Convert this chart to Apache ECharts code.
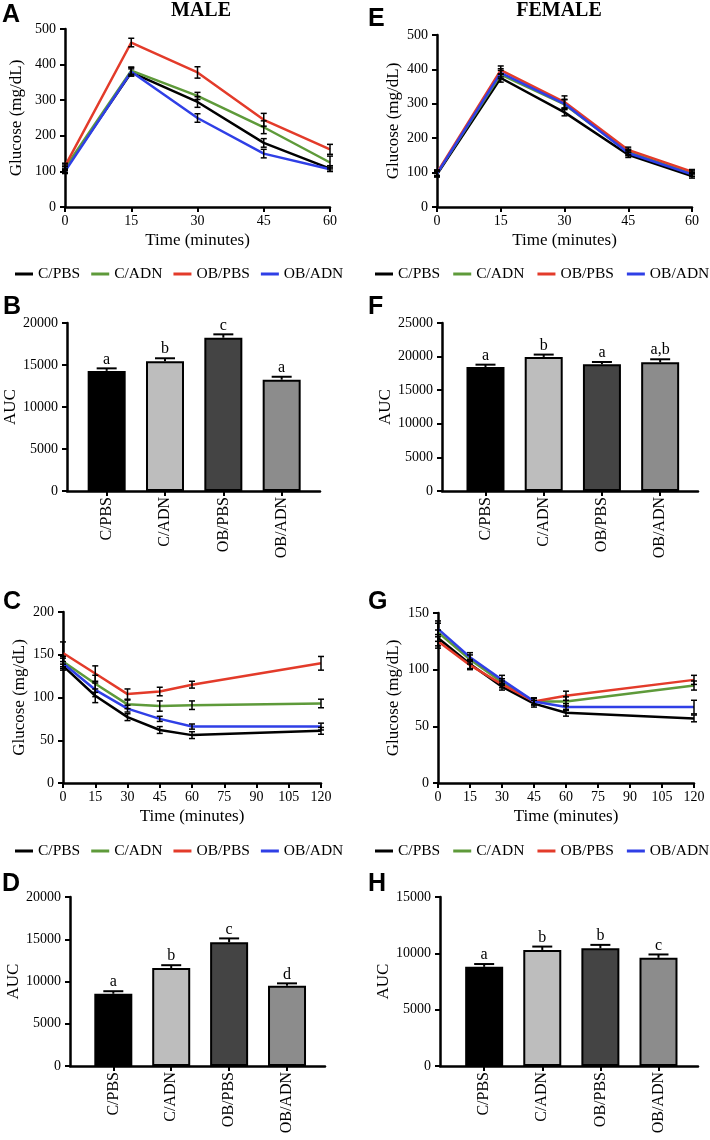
<!DOCTYPE html>
<html>
<head>
<meta charset="utf-8">
<script src="https://cdn.jsdelivr.net/npm/echarts@6/dist/echarts.min.js"></script>
<style>
  html, body { margin: 0; padding: 0; background: #fff; }
  #chart { width: 710px; height: 1140px; }
</style>
</head>
<body>
<div id="chart"></div>
<script>
// groups and colours
const groups = ['C/PBS', 'C/ADN', 'OB/PBS', 'OB/ADN'];
const lineColors = ['#000000', '#5e9a3a', '#e33b2a', '#2f3fe6'];
const barColors = ['#000000', '#bdbdbd', '#444444', '#8c8c8c'];

const gttTime = [0, 15, 30, 45, 60];
const ittTime = [0, 15, 30, 45, 60, 120];

// A - male GTT (rows follow groups)
const maleGttMean = [
  [105, 378, 295, 180, 108],
  [110, 383, 312, 224, 125],
  [115, 462, 378, 245, 162],
  [100, 380, 250, 150, 106]
];
const maleGttErr = [
  [8, 10, 15, 12, 8],
  [8, 10, 10, 18, 18],
  [8, 12, 16, 18, 14],
  [6, 12, 12, 12, 6]
];
// E - female GTT
const femaleGttMean = [
  [95, 375, 275, 152, 90],
  [98, 385, 298, 160, 97],
  [100, 398, 305, 166, 103],
  [97, 390, 300, 157, 95]
];
const femaleGttErr = [
  [8, 12, 10, 8, 6],
  [8, 12, 15, 8, 8],
  [8, 12, 18, 8, 6],
  [8, 12, 12, 8, 6]
];
// B / F - GTT AUC
const maleGttAuc = [14300, 15450, 18250, 13250];
const maleGttAucErr = [300, 350, 400, 350];
const maleGttLetters = ['a', 'b', 'c', 'a'];
const femaleGttAuc = [18450, 19950, 18850, 19150];
const femaleGttAucErr = [350, 350, 350, 450];
const femaleGttLetters = ['a', 'b', 'a', 'a,b'];

// C - male ITT
const maleIttMean = [
  [137, 102, 77, 62, 56, 61],
  [142, 116, 92, 90, 91, 93],
  [152, 128, 104, 107, 115, 140],
  [140, 109, 87, 75, 66, 66]
];
const maleIttErr = [
  [5, 8, 4, 4, 4, 4],
  [6, 10, 5, 6, 5, 5],
  [13, 9, 6, 5, 4, 8],
  [6, 8, 4, 3, 3, 4]
];
// G - female ITT
const femaleIttMean = [
  [128, 105, 85, 70, 62, 57],
  [133, 109, 89, 72, 72, 86],
  [125, 104, 87, 72, 77, 91],
  [136, 111, 91, 72, 67, 67]
];
const femaleIttErr = [
  [7, 4, 3, 3, 3, 3],
  [8, 4, 3, 3, 4, 4],
  [6, 4, 3, 3, 4, 4],
  [7, 4, 4, 3, 3, 6]
];
// D / H - ITT AUC
const maleIttAuc = [8550, 11600, 14650, 9500];
const maleIttAucErr = [300, 330, 450, 280];
const maleIttLetters = ['a', 'b', 'c', 'd'];
const femaleIttAuc = [8800, 10300, 10450, 9600];
const femaleIttAucErr = [250, 300, 300, 300];
const femaleIttLetters = ['a', 'b', 'b', 'c'];

const serif = 'Liberation Serif';
const axisLine = { show: true, onZero: false, lineStyle: { color: '#000', width: 2.5 } };
const axisTick = { show: true, inside: false, length: 5, lineStyle: { color: '#000', width: 2 } };

let grids = [], xAxes = [], yAxes = [], series = [];

function yAxisOf(gi, max, interval, name, gap) {
  return {
    gridIndex: gi, type: 'value', min: 0, max: max, interval: interval,
    axisLine: axisLine, axisTick: axisTick, splitLine: { show: false },
    axisLabel: { color: '#000', fontFamily: serif, fontSize: 14, margin: 9, formatter: v => String(v) },
    name: name, nameLocation: 'middle', nameRotate: 90, nameGap: gap,
    nameTextStyle: { color: '#000', fontFamily: serif, fontSize: 17 }
  };
}

function linePanel(grid, time, xMax, yMax, yInt, yGap, mean, err) {
  const gi = grids.length;
  grids.push(grid);
  xAxes.push({
    gridIndex: gi, type: 'value', min: 0, max: xMax, interval: 15,
    axisLine: axisLine, axisTick: axisTick, splitLine: { show: false },
    axisLabel: { color: '#000', fontFamily: serif, fontSize: 14, margin: 7 },
    name: 'Time (minutes)', nameLocation: 'middle', nameGap: 25,
    nameTextStyle: { color: '#000', fontFamily: serif, fontSize: 17 }
  });
  yAxes.push(yAxisOf(gi, yMax, yInt, 'Glucose (mg/dL)', yGap));
  const errData = [];
  groups.forEach((g, k) => {
    series.push({
      name: g, type: 'line', xAxisIndex: gi, yAxisIndex: gi,
      data: time.map((t, i) => [t, mean[k][i]]),
      showSymbol: false, symbol: 'circle', symbolSize: 3,
      lineStyle: { color: lineColors[k], width: 2.5 }, itemStyle: { color: lineColors[k] }
    });
    time.forEach((t, i) => errData.push([t, mean[k][i], err[k][i]]));
  });
  series.push({
    name: 'err' + gi, type: 'custom', xAxisIndex: gi, yAxisIndex: gi, z: 5,
    data: errData,
    renderItem: function (params, api) {
      const x = api.value(0), y = api.value(1), e = api.value(2);
      const top = api.coord([x, y + e]), bot = api.coord([x, y - e]);
      const st = { stroke: '#000', lineWidth: 1.5 };
      return { type: 'group', children: [
        { type: 'line', shape: { x1: top[0], y1: top[1], x2: bot[0], y2: bot[1] }, style: st },
        { type: 'line', shape: { x1: top[0] - 3, y1: top[1], x2: top[0] + 3, y2: top[1] }, style: st },
        { type: 'line', shape: { x1: bot[0] - 3, y1: bot[1], x2: bot[0] + 3, y2: bot[1] }, style: st }
      ] };
    }
  });
}

function barPanel(grid, xMin, xMax, yMax, yInt, yGap, vals, errs, letters) {
  const gi = grids.length;
  grids.push(grid);
  xAxes.push({
    gridIndex: gi, type: 'value', min: xMin, max: xMax,
    axisLine: axisLine, splitLine: { show: false },
    axisTick: Object.assign({ customValues: [0, 1, 2, 3] }, axisTick),
    axisLabel: { customValues: [0, 1, 2, 3], formatter: v => groups[v], rotate: 90,
      color: '#000', fontFamily: serif, fontSize: 16, margin: 6 }
  });
  yAxes.push(yAxisOf(gi, yMax, yInt, 'AUC', yGap));
  series.push({
    name: 'auc' + gi, type: 'bar', xAxisIndex: gi, yAxisIndex: gi, barWidth: 38,
    data: vals.map((v, i) => ({ value: [i, v], itemStyle: { color: barColors[i], borderColor: '#000', borderWidth: 2 } }))
  });
  series.push({
    name: 'aucErr' + gi, type: 'custom', xAxisIndex: gi, yAxisIndex: gi, z: 5,
    encode: { x: 0, y: 1 },
    data: vals.map((v, i) => [i, v, errs[i]]),
    renderItem: function (params, api) {
      const x = api.value(0), y = api.value(1), e = api.value(2);
      const top = api.coord([x, y + e]), base = api.coord([x, y]);
      const st = { stroke: '#000', lineWidth: 2 };
      return { type: 'group', children: [
        { type: 'line', shape: { x1: top[0], y1: top[1], x2: base[0], y2: base[1] }, style: st },
        { type: 'line', shape: { x1: top[0] - 10, y1: top[1], x2: top[0] + 10, y2: top[1] }, style: st },
        { type: 'text', style: { text: letters[params.dataIndex], x: top[0], y: top[1] - 1,
          align: 'center', verticalAlign: 'bottom', fill: '#000', font: '16px "Liberation Serif"' } }
      ] };
    }
  });
}

linePanel({ left: 65, top: 29, width: 265, height: 178 }, gttTime, 60, 500, 100, 40, maleGttMean, maleGttErr);
linePanel({ left: 437, top: 35, width: 255, height: 172 }, gttTime, 60, 500, 100, 35, femaleGttMean, femaleGttErr);
barPanel({ left: 67, top: 323, width: 253, height: 168 }, -0.68, 3.657, 20000, 5000, 47, maleGttAuc, maleGttAucErr, maleGttLetters);
barPanel({ left: 442, top: 323, width: 256, height: 168 }, -0.747, 3.65, 25000, 5000, 45, femaleGttAuc, femaleGttAucErr, femaleGttLetters);
linePanel({ left: 63, top: 612, width: 258, height: 171 }, ittTime, 120, 200, 50, 35, maleIttMean, maleIttErr);
linePanel({ left: 438, top: 613, width: 256, height: 170 }, ittTime, 120, 150, 50, 36, femaleIttMean, femaleIttErr);
barPanel({ left: 70, top: 897, width: 255, height: 169 }, -0.748, 3.656, 20000, 5000, 48, maleIttAuc, maleIttAucErr, maleIttLetters);
barPanel({ left: 440, top: 897, width: 258, height: 169 }, -0.76, 3.68, 15000, 5000, 45, femaleIttAuc, femaleIttAucErr, femaleIttLetters);

function legendAt(left, top, gap) {
  return {
    left: left, top: top, width: 345, data: groups, icon: 'rect', itemWidth: 18, itemHeight: 3, itemGap: gap,
    selectedMode: false, textStyle: { color: '#000', fontFamily: serif, fontSize: 15.5 }
  };
}

function panelLetter(txt, x, y) {
  return { type: 'text', left: x, top: y, style: { text: txt, fill: '#000', font: 'bold 25px "Liberation Sans"' } };
}
function heading(txt, cx) {
  return { type: 'text', x: cx, y: 1, style: { text: txt, fill: '#000', align: 'center', font: 'bold 20px "Liberation Serif"' } };
}

const chart = echarts.init(document.getElementById('chart'));
chart.setOption({
  animation: false,
  backgroundColor: '#fff',
  grid: grids,
  xAxis: xAxes,
  yAxis: yAxes,
  legend: [legendAt(10, 261, 11), legendAt(370, 261, 13), legendAt(10, 838, 11), legendAt(370, 838, 13)],
  series: series,
  graphic: [
    heading('MALE', 201), heading('FEMALE', 559),
    panelLetter('A', 2, 3), panelLetter('E', 368, 7),
    panelLetter('B', 3, 295), panelLetter('F', 368, 295),
    panelLetter('C', 3, 590), panelLetter('G', 368, 590),
    panelLetter('D', 2, 872), panelLetter('H', 368, 872)
  ]
});
</script>
</body>
</html>
